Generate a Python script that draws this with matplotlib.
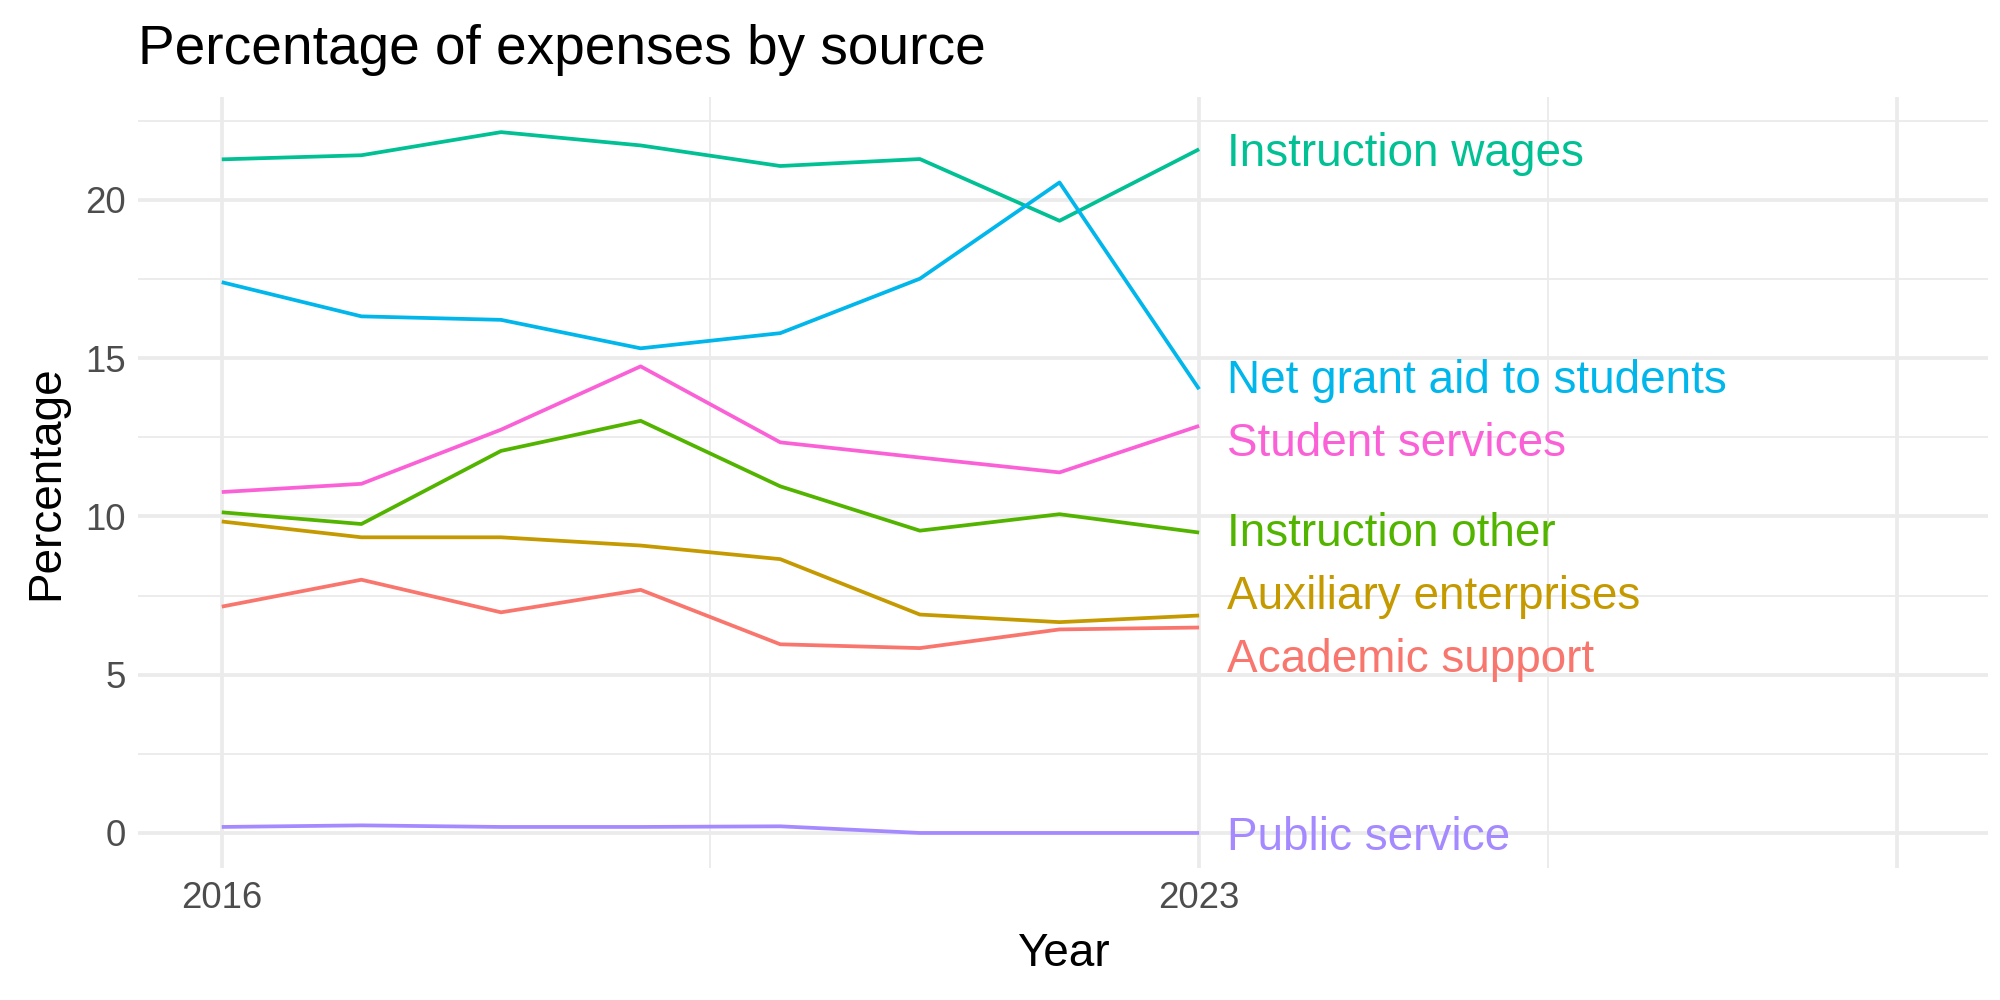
import numpy as np
import matplotlib
matplotlib.use('Agg')
import matplotlib.pyplot as plt
from matplotlib.ticker import FixedLocator

# Data
years = [2016, 2017, 2018, 2019, 2020, 2021, 2022, 2023]
sources = ['Academic support', 'Auxiliary enterprises', 'Instruction other',
           'Instruction wages', 'Net grant aid to students', 'Public service',
           'Student services']
academic_support = [7.15, 8.00, 6.97, 7.68, 5.96, 5.84, 6.43, 6.49]
auxiliary_enterprises = [9.84, 9.34, 9.34, 9.08, 8.65, 6.90, 6.66, 6.87]
instruction_other = [10.13, 9.76, 12.07, 13.02, 10.95, 9.55, 10.07, 9.49]
instruction_wages = [21.28, 21.41, 22.14, 21.72, 21.07, 21.29, 19.34, 21.60]
net_grant_aid = [17.40, 16.32, 16.21, 15.31, 15.79, 17.51, 20.55, 14.02]
public_service = [0.19, 0.24, 0.19, 0.19, 0.21, 0.00, 0.00, 0.00]
student_services = [10.77, 11.03, 12.74, 14.74, 12.34, 11.86, 11.39, 12.86]
series = [academic_support, auxiliary_enterprises, instruction_other,
          instruction_wages, net_grant_aid, public_service, student_services]
x_breaks = [2016, 2023, 2028]
x_labels = ['2016', '2023', '']
y_breaks = [0, 5, 10, 15, 20]

# ggplot default hue palette for 7 groups
colors = ['#F8766D', '#C49A00', '#53B400', '#00C094', '#00B6EB', '#A58AFF', '#FB61D7']


def spread_labels(values, gap):
    # simple 1D repel: merge overlapping clusters and space them evenly
    order = np.argsort(values)
    clusters = [[i] for i in order]
    changed = True
    while changed:
        changed = False
        pos = []
        for c in clusters:
            centre = np.mean([values[i] for i in c])
            pos.append(centre - gap * (len(c) - 1) / 2)
        for k in range(len(clusters) - 1):
            top_k = pos[k] + gap * (len(clusters[k]) - 1)
            if pos[k + 1] - top_k < gap:
                clusters[k] = clusters[k] + clusters[k + 1]
                del clusters[k + 1]
                changed = True
                break
    out = [0.0] * len(values)
    for c in clusters:
        centre = np.mean([values[i] for i in c])
        start = centre - gap * (len(c) - 1) / 2
        for j, i in enumerate(c):
            out[i] = start + j * gap
    return out


plt.rcParams['font.family'] = ['Liberation Sans', 'DejaVu Sans']
fig = plt.figure(figsize=(20 / 3, 10 / 3), dpi=300)
ax = fig.add_axes([0.069, 0.132, 0.925, 0.771])

# grid, ggplot theme_minimal style
for y in y_breaks:
    ax.axhline(y, color='#EBEBEB', lw=0.9, zorder=0)
for y in [2.5, 7.5, 12.5, 17.5, 22.5]:
    ax.axhline(y, color='#EBEBEB', lw=0.45, zorder=0)
for x in x_breaks:
    ax.axvline(x, color='#EBEBEB', lw=0.9, zorder=0)
for x in [2019.5, 2025.5]:
    ax.axvline(x, color='#EBEBEB', lw=0.45, zorder=0)

for name, vals, col in zip(sources, series, colors):
    ax.plot(years, vals, color=col, lw=0.9, solid_capstyle='butt', zorder=2)

end_vals = [s[-1] for s in series]
label_y = spread_labels(end_vals, 2.0)
for name, ly, col in zip(sources, label_y, colors):
    ax.text(years[-1] + 0.2, ly, name, color=col, fontsize=11.0,
            ha='left', va='center_baseline', zorder=3)

ax.set_xlim(2015.4, 2028.65)
ax.set_ylim(-1.107, 23.25)
ax.xaxis.set_major_locator(FixedLocator(x_breaks))
ax.set_xticklabels(x_labels)
ax.yaxis.set_major_locator(FixedLocator(y_breaks))
ax.tick_params(axis='both', length=0, labelsize=8.8, labelcolor='#4D4D4D', pad=3)
for s in ax.spines.values():
    s.set_visible(False)

ax.set_xlabel('Year', fontsize=11, labelpad=4)
ax.set_ylabel('Percentage', fontsize=11, labelpad=4)
ax.set_title('Percentage of expenses by source', fontsize=13.2, loc='left', pad=8)

fig.savefig('out.png', dpi=300)
